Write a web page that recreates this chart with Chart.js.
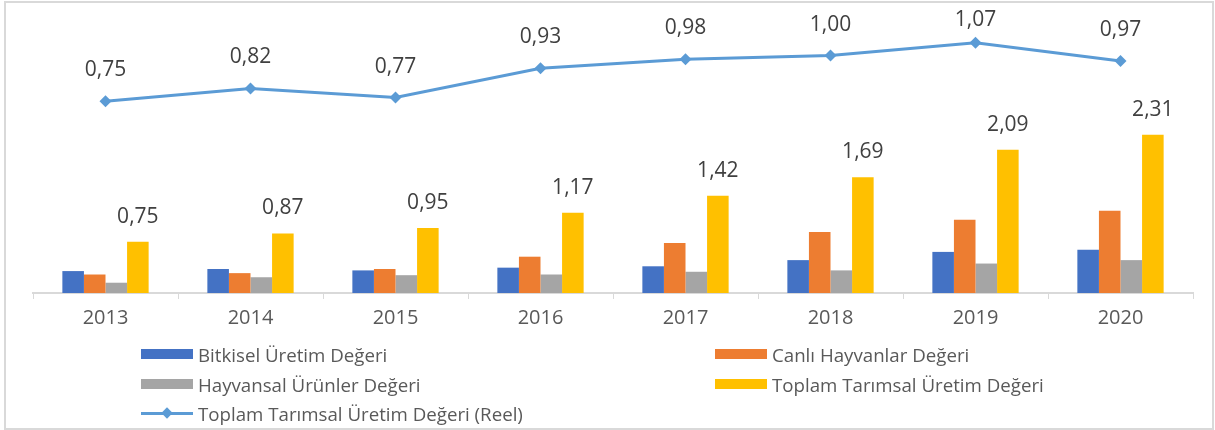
<!DOCTYPE html>
<html>
<head>
<meta charset="utf-8">
<script src="https://cdn.jsdelivr.net/npm/chart.js@4/dist/chart.umd.min.js"></script>
<style>
  html, body { margin: 0; padding: 0; background: #fff; }
  body { width: 1215px; height: 430px; position: relative; overflow: hidden; font-family: "Open Sans", sans-serif; }
  #frame { position: absolute; left: 4px; top: 1px; width: 1206px; height: 425px; border: 2px solid #d9d9d9; box-sizing: content-box; }
  #c { position: absolute; left: 0; top: 0; }
  #legend { position: absolute; left: 0; top: 0; width: 1215px; height: 430px; pointer-events: none; }
  .item { position: absolute; display: flex; align-items: center; height: 26px; color: #595959; font-size: 18.7px; white-space: nowrap; }
  .sw { width: 52px; height: 10px; margin-right: 5px; }
  .ln { width: 52px; height: 3px; margin-right: 5px; position: relative; }
  .dm { position: absolute; width: 8px; height: 8px; left: 22px; top: -2.5px; transform: rotate(45deg); }
</style>
</head>
<body>
<div id="frame"></div>
<canvas id="c" width="1215" height="340"></canvas>
<div id="legend"></div>
<script>
const years = ['2013', '2014', '2015', '2016', '2017', '2018', '2019', '2020'];
const bitkisel = [0.32, 0.35, 0.33, 0.37, 0.39, 0.48, 0.60, 0.63];
const canli = [0.27, 0.29, 0.35, 0.53, 0.73, 0.89, 1.07, 1.20];
const hayvansal = [0.15, 0.23, 0.26, 0.27, 0.31, 0.33, 0.43, 0.48];
const toplam = [0.75, 0.87, 0.95, 1.17, 1.42, 1.69, 2.09, 2.31];
const reel = [0.75, 0.82, 0.77, 0.93, 0.98, 1.00, 1.07, 0.97];
const seriesNames = ['Bitkisel Üretim Değeri', 'Canlı Hayvanlar Değeri', 'Hayvansal Ürünler Değeri', 'Toplam Tarımsal Üretim Değeri', 'Toplam Tarımsal Üretim Değeri (Reel)'];
const seriesColors = ['#4472C4', '#ED7D31', '#A5A5A5', '#FFC000', '#5B9BD5'];

const fmt = v => v.toFixed(2).replace('.', ',');

const labelPlugin = {
  id: 'valueLabels',
  afterDatasetsDraw(chart) {
    const ctx = chart.ctx;
    ctx.save();
    ctx.font = '21px "Open Sans"';
    ctx.fillStyle = '#404040';
    ctx.textAlign = 'center';
    ctx.textBaseline = 'middle';
    chart.data.datasets.forEach((ds, i) => {
      if (!ds.showValues) return;
      const meta = chart.getDatasetMeta(i);
      meta.data.forEach((el, j) => {
        const off = ds.type === 'line' ? 31 : 25;
        let y = el.y - off;
        if (y < 20) y = 20;
        ctx.fillText(fmt(ds.data[j]), el.x, y);
      });
    });
    ctx.restore();
  }
};

const barCommon = { categoryPercentage: 0.595, barPercentage: 1, yAxisID: 'y', order: 2 };

const chart = new Chart(document.getElementById('c'), {
  type: 'bar',
  data: {
    labels: years,
    datasets: [
      Object.assign({ label: seriesNames[0], data: bitkisel, backgroundColor: seriesColors[0] }, barCommon),
      Object.assign({ label: seriesNames[1], data: canli, backgroundColor: seriesColors[1] }, barCommon),
      Object.assign({ label: seriesNames[2], data: hayvansal, backgroundColor: seriesColors[2] }, barCommon),
      Object.assign({ label: seriesNames[3], data: toplam, backgroundColor: seriesColors[3], showValues: true }, barCommon),
      {
        type: 'line', label: seriesNames[4], data: reel, yAxisID: 'y1', order: 1,
        borderColor: seriesColors[4], backgroundColor: seriesColors[4], borderWidth: 3,
        pointStyle: 'rectRot', pointRadius: 6, pointHoverRadius: 6,
        pointBackgroundColor: seriesColors[4], pointBorderColor: seriesColors[4], pointBorderWidth: 0,
        tension: 0, showValues: true
      }
    ]
  },
  options: {
    responsive: false,
    animation: false,
    devicePixelRatio: 1,
    layout: { padding: { left: 33, right: 22, top: 19, bottom: 0 } },
    plugins: { legend: { display: false }, tooltip: { enabled: false } },
    scales: {
      x: {
        offset: true,
        grid: { display: true, drawOnChartArea: false, drawTicks: true, tickLength: 6, color: '#d9d9d9', offset: true, lineWidth: 1 },
        border: { display: true, color: '#d9d9d9', width: 2 },
        ticks: { color: '#595959', font: { family: 'Open Sans', size: 20 }, padding: 7, maxRotation: 0 },
        afterFit(s) { s.height = 47; }
      },
      y: { display: false, min: 0, max: 4 },
      y1: { display: false, min: -0.3, max: 1.2, position: 'right' }
    }
  },
  plugins: [labelPlugin]
});

// Legend built from datasets (2 columns)
const legend = document.getElementById('legend');
const colX = [141, 715];
const rowY = [354, 384, 413];
chart.data.datasets.forEach((ds, i) => {
  const item = document.createElement('div');
  item.className = 'item';
  item.style.left = colX[i % 2] + 'px';
  item.style.top = (rowY[Math.floor(i / 2)] - 13) + 'px';
  if (ds.type === 'line') {
    const ln = document.createElement('div');
    ln.className = 'ln';
    ln.style.background = ds.borderColor;
    const dm = document.createElement('div');
    dm.className = 'dm';
    dm.style.background = ds.borderColor;
    ln.appendChild(dm);
    item.appendChild(ln);
  } else {
    const sw = document.createElement('div');
    sw.className = 'sw';
    sw.style.background = ds.backgroundColor;
    item.appendChild(sw);
  }
  const t = document.createElement('span');
  t.textContent = ds.label;
  item.appendChild(t);
  legend.appendChild(item);
});
</script>
</body>
</html>
